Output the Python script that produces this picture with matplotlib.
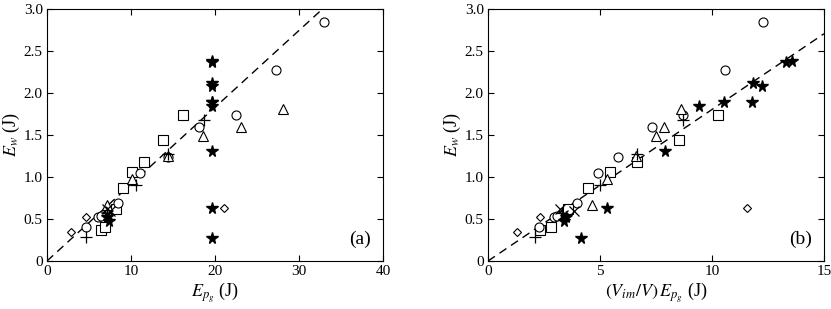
import numpy as np
import matplotlib.pyplot as plt

plt.rcParams['font.family'] = ['Liberation Serif', 'DejaVu Serif']
plt.rcParams['mathtext.fontset'] = 'stix'

# data: (E_pg, (Vim/V)E_pg, E_w) per marker group
circ_a = [4.6, 6.1, 6.4, 8.5, 11.1, 14.4, 18.1, 22.5, 27.3, 33.0]
circ_b = [2.28, 2.95, 3.10, 3.96, 4.93, 5.79, 7.33, 8.72, 10.6, 12.29]
circ_y = [0.40, 0.52, 0.53, 0.69, 1.04, 1.24, 1.59, 1.74, 2.27, 2.84]

sq_a = [6.4, 6.9, 8.2, 9.1, 10.1, 11.5, 13.8, 16.15]
sq_b = [2.32, 2.81, 3.58, 4.45, 5.45, 6.63, 8.54, 10.25]
sq_y = [0.37, 0.40, 0.62, 0.87, 1.06, 1.18, 1.44, 1.73]

tri_a = [7.2, 10.1, 14.4, 18.6, 23.1, 28.1]
tri_b = [4.66, 5.30, 6.60, 7.48, 7.87, 8.62]
tri_y = [0.67, 0.97, 1.25, 1.49, 1.59, 1.81]

dia_a = [2.8, 4.7, 21.1]
dia_b = [1.28, 2.32, 11.58]
dia_y = [0.34, 0.52, 0.63]

plus_a = [4.6, 7.2, 10.6, 14.4, 18.7]
plus_b = [2.10, 3.30, 5.00, 6.63, 8.69]
plus_y = [0.28, 0.57, 0.90, 1.27, 1.67]

x_a = [7.3, 7.5, 7.1]
x_b = [3.36, 3.85, 3.20]
x_y = [0.55, 0.60, 0.62]

star_a = [7.4, 7.2, 19.7, 19.7, 19.7, 19.7, 19.7, 19.7, 19.7, 19.7, 19.7, 19.7]
star_b = [3.40, 3.50, 13.29, 13.56, 11.84, 12.22, 9.40, 10.54, 11.77, 7.90, 5.33, 4.15]
star_y = [0.48, 0.52, 2.37, 2.38, 2.11, 2.08, 1.84, 1.89, 1.89, 1.31, 0.63, 0.27]

slope_a = 0.0913
slope_b = 0.18

fig = plt.figure(figsize=(8.31, 3.09), dpi=100)
ax1 = fig.add_axes([47/831, 48/309, 336/831, 252.5/309])
ax2 = fig.add_axes([488/831, 48/309, 336/831, 252.5/309])

open_kw = dict(linestyle='none', markerfacecolor='white', markeredgecolor='black',
               markeredgewidth=0.8, markersize=6.5)

def draw(ax, xc, xs, xt, xd, xp, xx, xst, xmax, slope, tag, xticks, xlabel):
    xl = np.array([0, xmax])
    ax.plot(xl, slope * xl, linestyle=(0, (6, 4)), color='black', linewidth=1.0, zorder=1)
    ax.plot(xs, sq_y, marker='s', **open_kw)
    ax.plot(xc, circ_y, marker='o', **open_kw)
    ax.plot(xt, tri_y, marker='^', **open_kw)
    ax.plot(xd, dia_y, marker='D', linestyle='none', markerfacecolor='white',
            markeredgecolor='black', markeredgewidth=0.8, markersize=4.5)
    ax.plot(xp, plus_y, marker='+', linestyle='none', color='black',
            markeredgewidth=0.9, markersize=8)
    ax.plot(xx, x_y, marker='x', linestyle='none', color='black',
            markeredgewidth=0.9, markersize=6.5)
    ax.plot(xst, star_y, marker='*', linestyle='none', color='black', markersize=8.5)
    ax.set_xlim(0, xmax)
    ax.set_ylim(0, 3.0)
    ax.set_xticks(xticks)
    ax.set_xticklabels([str(t) for t in xticks])
    yt = [0, 0.5, 1.0, 1.5, 2.0, 2.5, 3.0]
    ax.set_yticks(yt)
    ax.set_yticklabels(['0', '0.5', '1.0', '1.5', '2.0', '2.5', '3.0'])
    ax.tick_params(direction='in', top=True, right=True, length=4, width=0.8,
                   labelsize=11, pad=3)
    for s in ax.spines.values():
        s.set_linewidth(0.8)
    ax.set_xlabel(xlabel, fontsize=13, labelpad=2)
    ax.set_ylabel(r'$E_w$ (J)', fontsize=13, labelpad=1)
    ax.text(0.965, 0.05, tag, transform=ax.transAxes, ha='right', va='bottom', fontsize=14)

draw(ax1, circ_a, sq_a, tri_a, dia_a, plus_a, x_a, star_a, 40, slope_a, '(a)',
     [0, 10, 20, 30, 40], r'$E_{p_g}$ (J)')
draw(ax2, circ_b, sq_b, tri_b, dia_b, plus_b, x_b, star_b, 15, slope_b, '(b)',
     [0, 5, 10, 15], r'$(V_{im}/V)\,E_{p_g}$ (J)')

fig.savefig('out.png', dpi=100)
